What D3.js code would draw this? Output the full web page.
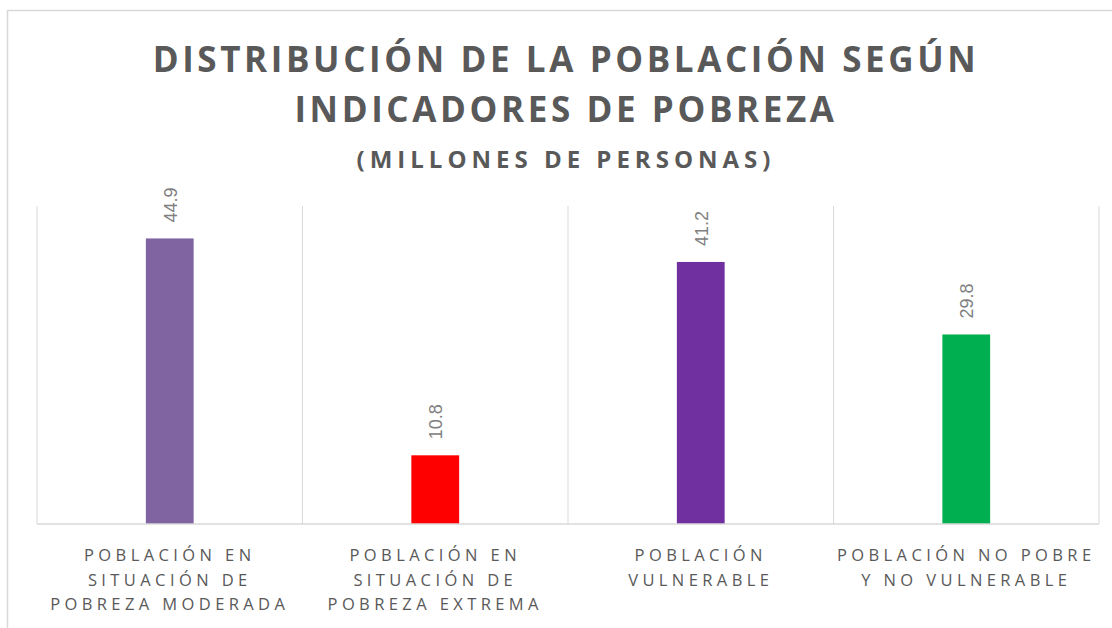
<!DOCTYPE html>
<html>
<head>
<meta charset="utf-8">
<script src="https://cdn.jsdelivr.net/npm/d3@7"></script>
<style>
  body { margin: 0; background: #fff; }
  svg { display: block; }
</style>
</head>
<body>
<svg id="chart" width="1112" height="628"></svg>
<script>
var categories = [
    ["POBLACIÓN EN", "SITUACIÓN DE", "POBREZA MODERADA"],
    ["POBLACIÓN EN", "SITUACIÓN DE", "POBREZA EXTREMA"],
    ["POBLACIÓN", "VULNERABLE"],
    ["POBLACIÓN NO POBRE", "Y NO VULNERABLE"]
];
var values = [44.9, 10.8, 41.2, 29.8];
var barColors = ["#8064A2", "#FF0000", "#7030A0", "#00B050"];
var titleLines = ["DISTRIBUCIÓN DE LA POBLACIÓN SEGÚN", "INDICADORES DE POBREZA"];
var subtitle = "(MILLONES DE PERSONAS)";
var yDomain = [0, 50];

var svg = d3.select("#chart");

// chart border (left and top edges visible)
svg.append("path")
    .attr("d", "M7.5,628 L7.5,10.5 L1112,10.5")
    .attr("fill", "none")
    .attr("stroke", "#d9d9d9")
    .attr("stroke-width", 1.5);

var plot = {left: 37, right: 1099, top: 206, bottom: 524};

var x = d3.scaleBand()
    .domain(d3.range(values.length))
    .range([plot.left, plot.right])
    .padding(0);

var y = d3.scaleLinear()
    .domain(yDomain)
    .range([plot.bottom, plot.top]);

var barWidth = x.bandwidth() * 0.18;

// vertical gridlines between categories
var edges = d3.range(values.length + 1).map(function(i) {
    return i < values.length ? x(i) : x(i - 1) + x.bandwidth();
});
svg.append("g").selectAll("line")
    .data(edges)
    .enter().append("line")
    .attr("x1", function(d) { return d; })
    .attr("x2", function(d) { return d; })
    .attr("y1", y(yDomain[1]))
    .attr("y2", y(0))
    .attr("stroke", "#d9d9d9")
    .attr("stroke-width", 1);

// bars
svg.append("g").selectAll("rect")
    .data(values)
    .enter().append("rect")
    .attr("x", function(d, i) { return x(i) + x.bandwidth() / 2 - barWidth / 2; })
    .attr("y", function(d) { return y(d); })
    .attr("width", barWidth)
    .attr("height", function(d) { return y(0) - y(d); })
    .attr("fill", function(d, i) { return barColors[i]; });

// baseline
svg.append("line")
    .attr("x1", plot.left).attr("x2", plot.right)
    .attr("y1", y(0)).attr("y2", y(0))
    .attr("stroke", "#d9d9d9")
    .attr("stroke-width", 1.5);

// value labels, rotated
svg.append("g").selectAll("text")
    .data(values)
    .enter().append("text")
    .attr("transform", function(d, i) {
        return "translate(" + (x(i) + x.bandwidth() / 2 + 7) + "," + (y(d) - 16) + ") rotate(-90)";
    })
    .attr("font-family", "Liberation Sans, Arial, sans-serif")
    .attr("font-size", 18)
    .attr("fill", "#808080")
    .text(function(d) { return d3.format(".1f")(d); });

// category labels
var catG = svg.append("g");
categories.forEach(function(lines, i) {
    var t = catG.append("text")
        .attr("text-anchor", "middle")
        .attr("font-family", "Open Sans, sans-serif")
        .attr("font-size", 16.5)
        .attr("letter-spacing", 4.4)
        .attr("fill", "#595959");
    lines.forEach(function(s, j) {
        t.append("tspan")
            .attr("x", x(i) + x.bandwidth() / 2)
            .attr("y", 561 + j * 24.7)
            .text(s);
    });
});

// title
var titleG = svg.append("g")
    .attr("font-family", "Open Sans, sans-serif")
    .attr("font-weight", "bold")
    .attr("fill", "#595959")
    .attr("text-anchor", "middle");
titleLines.forEach(function(s, j) {
    titleG.append("text")
        .attr("x", 566)
        .attr("y", 72 + j * 50)
        .attr("font-size", 35)
        .attr("letter-spacing", 3.6)
        .text(s);
});
titleG.append("text")
    .attr("x", 566)
    .attr("y", 168)
    .attr("font-size", 24)
    .attr("letter-spacing", 5)
    .text(subtitle);
</script>
</body>
</html>
